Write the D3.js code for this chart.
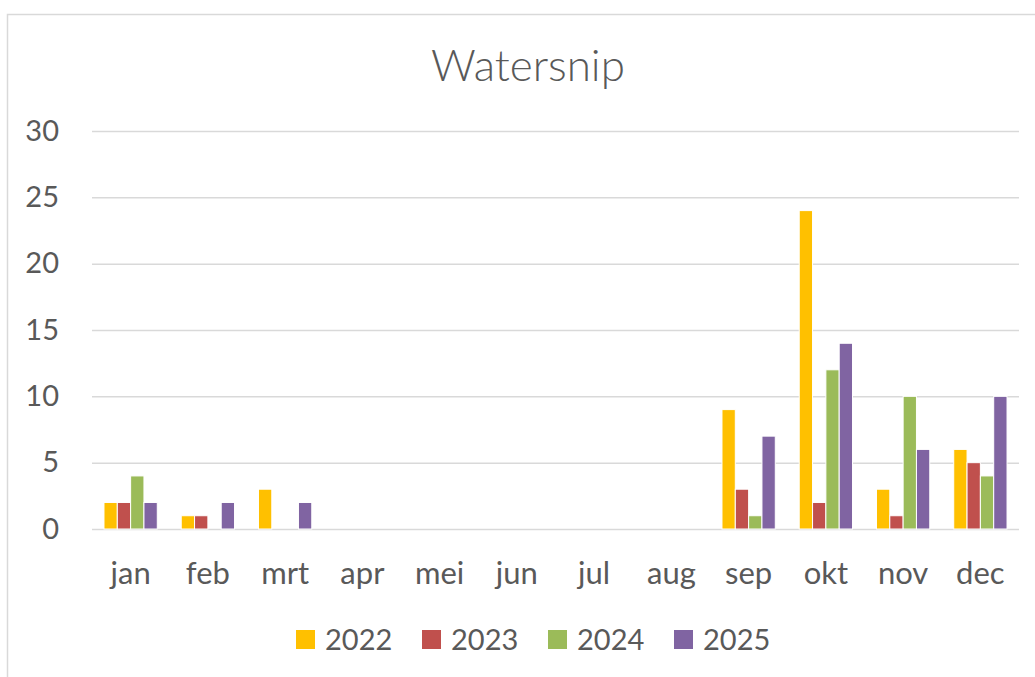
<!DOCTYPE html>
<html>
<head>
<meta charset="utf-8">
<script src="https://cdn.jsdelivr.net/npm/d3@7"></script>
<style>
  body { margin: 0; background: #fff; }
  svg { display: block; font-family: Lato, "Open Sans", sans-serif; }
</style>
</head>
<body>
<div id="chart"></div>
<script>
// data
var months = ['jan', 'feb', 'mrt', 'apr', 'mei', 'jun', 'jul', 'aug', 'sep', 'okt', 'nov', 'dec']
var years = ['2022', '2023', '2024', '2025']
var v2022 = [2, 1, 3, 0, 0, 0, 0, 0, 9, 24, 3, 6]
var v2023 = [2, 1, 0, 0, 0, 0, 0, 0, 3, 2, 1, 5]
var v2024 = [4, 0, 0, 0, 0, 0, 0, 0, 1, 12, 10, 4]
var v2025 = [2, 2, 2, 0, 0, 0, 0, 0, 7, 14, 6, 10]
var yTicks = [0, 5, 10, 15, 20, 25, 30]
var colors = ['#FFC000', '#C0504D', '#9BBB59', '#8064A2']

var series = [v2022, v2023, v2024, v2025]

var width = 1035, height = 677
var textColor = '#595959'

var svg = d3.select('#chart')
  .append('svg')
    .attr('width', width)
    .attr('height', height)

// chart frame
svg.append('rect')
  .attr('x', 7.5)
  .attr('y', 14.5)
  .attr('width', width + 10)
  .attr('height', height + 10)
  .attr('fill', 'none')
  .attr('stroke', '#d9d9d9')
  .attr('stroke-width', 1.5)

svg.append('text')
  .text('Watersnip')
  .attr('x', 528)
  .attr('y', 81)
  .attr('text-anchor', 'middle')
  .attr('fill', textColor)
  .attr('font-size', 44)
  .attr('font-weight', 300)

var x = d3.scaleBand()
  .domain(months)
  .range([92, 1019])
  .paddingInner(0.31)
  .paddingOuter(0.155)

var xInner = d3.scaleBand()
  .domain(years)
  .range([0, x.bandwidth()])

var y = d3.scaleLinear()
  .domain([0, 30])
  .range([529, 131])

// gridlines
var yAxis = d3.axisLeft(y)
  .tickValues(yTicks)
  .tickSize(-(1019 - 92))
  .tickPadding(33)

var gy = svg.append('g')
  .attr('transform', 'translate(92,0)')
  .call(yAxis)
gy.select('.domain').remove()
gy.selectAll('.tick line')
  .attr('stroke', '#d9d9d9')
  .attr('stroke-width', 1.5)
gy.selectAll('.tick text')
  .attr('fill', textColor)
  .attr('font-size', 29)
  .attr('font-family', 'Lato, "Open Sans", sans-serif')

var xAxis = d3.axisBottom(x)
  .tickSize(0)
  .tickPadding(33)

var gx = svg.append('g')
  .attr('transform', 'translate(0,529)')
  .call(xAxis)
gx.select('.domain').remove()
gx.selectAll('.tick text')
  .attr('fill', textColor)
  .attr('font-size', 31)
  .attr('font-family', 'Lato, "Open Sans", sans-serif')

// bars
var groups = svg.append('g')
  .selectAll('g.series')
  .data(series)
  .join('g')
    .attr('class', 'series')
    .attr('fill', (d, i) => colors[i])

groups.each(function (vals, si) {
  d3.select(this)
    .selectAll('rect')
    .data(vals.map((v, mi) => [months[mi], v]).filter(d => d[1] > 0))
    .join('rect')
      .attr('x', d => x(d[0]) + xInner(years[si]))
      .attr('y', d => y(d[1]))
      .attr('width', xInner.bandwidth())
      .attr('height', d => y(0) - y(d[1]))
      .attr('stroke', '#fff')
      .attr('stroke-width', 1)
})

// legend
var legend = svg.append('g')
  .selectAll('g.legend')
  .data(years)
  .join('g')
    .attr('class', 'legend')
    .attr('transform', (d, i) => `translate(${296 + i * 126}, 630)`)

legend.append('rect')
  .attr('width', 19)
  .attr('height', 19)
  .attr('fill', (d, i) => colors[i])

legend.append('text')
  .text(d => d)
  .attr('x', 29)
  .attr('y', 20)
  .attr('fill', textColor)
  .attr('font-size', 29)
</script>
</body>
</html>
